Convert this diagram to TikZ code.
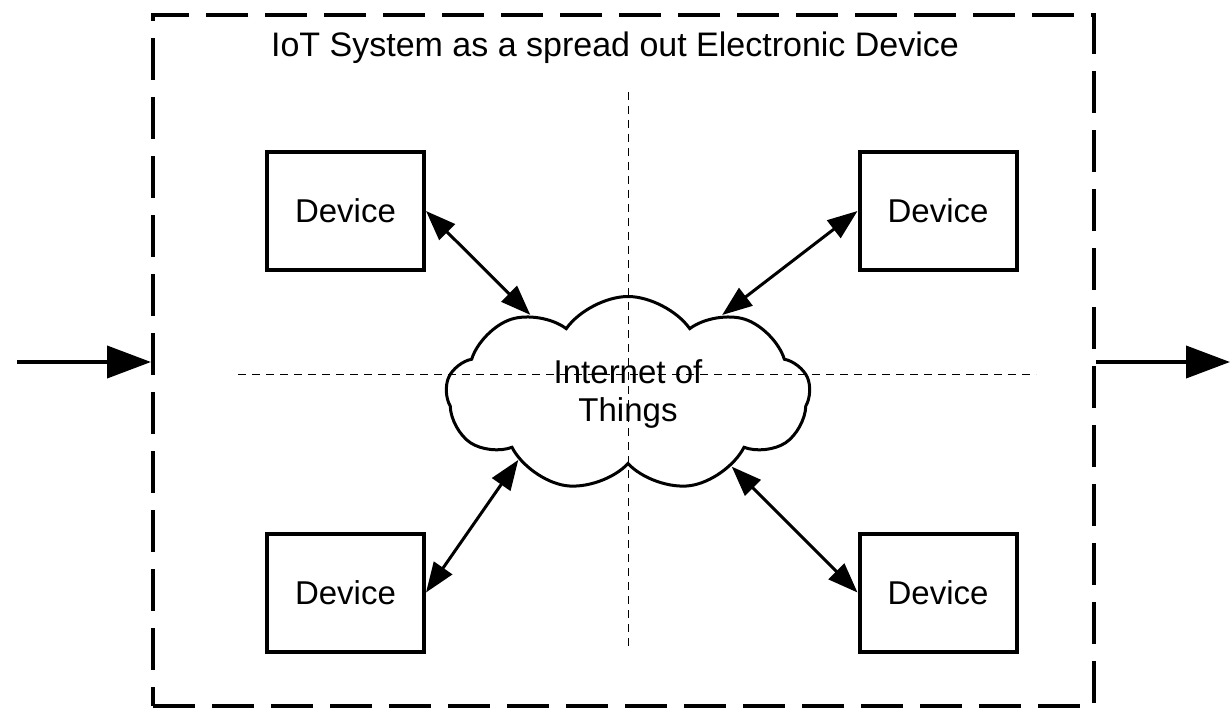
\documentclass[tikz,border=0pt]{standalone}
\usepackage{fontspec}
\setmainfont{Liberation Sans}
\usetikzlibrary{shapes.symbols,arrows.meta,positioning}

\tikzset{
  every node/.append style={font=\fontsize{16.5}{19}\selectfont},
  device/.style={draw, line width=2pt, minimum width=78.5pt, minimum height=59pt, inner sep=0pt},
  net/.style={cloud, draw, line width=1.5pt, cloud puffs=9, cloud puff arc=110, aspect=1.87,
    minimum width=182pt, minimum height=97.5pt, inner sep=0pt, align=center},
  frame/.style={draw, line width=2pt, dash pattern=on 21pt off 8.5pt,
    minimum width=470.5pt, minimum height=345.5pt, inner sep=0pt},
  link/.style={line width=1.5pt, {Triangle[length=15pt,width=11pt]}-{Triangle[length=15pt,width=11pt]}},
  io/.style={line width=2pt, -{Triangle[length=22pt,width=16pt]}},
  axis/.style={line width=0.5pt, dash pattern=on 4pt off 3pt},
}

\begin{document}
\begin{tikzpicture}[x=0.5pt, y=-0.5pt]
    \useasboundingbox (0,0) rectangle (1230,711);
    \node[frame] (sys) at (623.5,360.5) {} ; %
    \node[font=\fontsize{17}{20}\selectfont] (title) at (615,48) {IoT System as a spread out Electronic Device} ; %
% quadrant lines
    \coordinate (vtop) at (628,92) ; %
    \coordinate (vbot) at (628,650) ; %
    \coordinate (hleft) at (238,374) ; %
    \coordinate (hright) at (1036,374) ; %
    \draw[axis] (vtop) -- (vbot) ; %
    \draw[axis] (hleft) -- (hright) ; %
% network
    \node[net] (iot) at (628,394) {Internet of\\Things\hspace*{0pt}} ; %
% devices
    \node[device] (dev_tl) at (345.5,211) {Device} ; %
    \node[device] (dev_tr) at (938,211) {Device} ; %
    \node[device] (dev_bl) at (345.5,592.5) {Device} ; %
    \node[device] (dev_br) at (938,592.5) {Device} ; %
% edges
    \draw[link] (dev_tl.east) -- (iot.141) ; %
    \draw[link] (dev_tr.west) -- (iot.40) ; %
    \draw[link] (dev_bl.east) -- (iot.211) ; %
    \draw[link] (dev_br.west) -- (iot.325) ; %
% input / output
    \coordinate (in) at (17,362) ; %
    \coordinate (out) at (1230,362) ; %
    \draw[io] (in) -- (in -| sys.west) ; %
    \draw[io] (out -| sys.east) -- (out) ; %
\end{tikzpicture}
\end{document}
